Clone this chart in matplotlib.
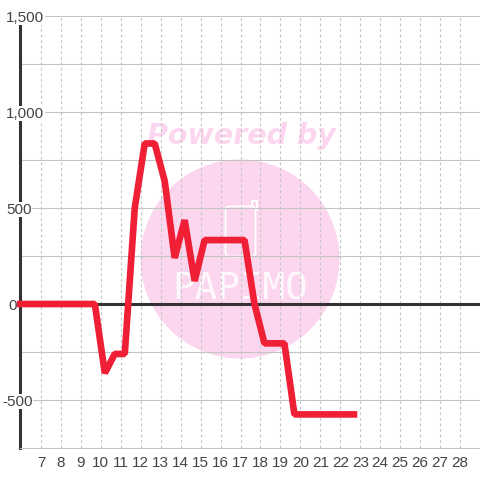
import matplotlib
matplotlib.use('Agg')
import matplotlib.pyplot as plt
from matplotlib.patches import Circle, FancyBboxPatch, Rectangle
from matplotlib.transforms import IdentityTransform

plt.rcParams['font.family'] = ['Liberation Sans', 'DejaVu Sans']

# half day samples
days = [5.8, 6.2, 6.7, 7.2, 7.7, 8.2, 8.7, 9.2, 9.7, 10.2, 10.7, 11.2, 11.7, 12.2, 12.7,
        13.2, 13.7, 14.2, 14.7, 15.2, 15.7, 16.2, 16.7, 17.2, 17.7, 18.2, 18.7, 19.2, 19.7,
        20.2, 20.7, 21.2, 21.7, 22.2, 22.85]
values = [0, 0, 0, 0, 0, 0, 0, 0, 0, -360, -260, -260, 500, 836, 836,
          640, 240, 437, 120, 333, 333, 333, 333, 333, 0, -205, -205, -205, -575,
          -575, -575, -575, -575, -575, -575]
x_ticks = list(range(7, 29))
y_major = [1500, 1000, 500, 0, -500]
y_minor = [1250, 750, 250, -250]
y_labels = ['1,500', '1,000', '500', '0', '-500']
y_label_left = [6, 6, 6, 8, 2]

grid_col = '#c4c4c4'
text_col = '#444444'
dark = '#333333'
red = '#ef1f35'
pink = '#fcd6ee'

fig = plt.figure(figsize=(4.8, 4.8), dpi=100, facecolor='white')
ax = fig.add_axes([20 / 480, 1 - 448 / 480, 460 / 480, 432 / 480])
ax.patch.set_visible(False)
ax.set_xlim(5.95, 29.0)
ax.set_ylim(-750, 1500)

# watermark goes behind the axes
px = IdentityTransform()
fig.add_artist(Circle((240, 480 - 259), 99.5, transform=px, fc=pink, ec='none', zorder=-3))
fig.add_artist(Rectangle((252, 480 - 210), 4.5, 9, transform=px, fc=pink, ec='white', lw=1.3, zorder=-2))
fig.add_artist(FancyBboxPatch((225.5, 480 - 256.5), 30, 50, boxstyle='round,pad=0,rounding_size=4',
                              transform=px, fc=pink, ec='white', lw=1.3, zorder=-1))
fig.text(241.5 / 480, 1 - 135.5 / 480, 'Powered by', color=pink, fontsize=20.5, ha='center', va='center',
         family='DejaVu Sans', weight='bold', style='oblique', zorder=-1)
fig.text(240 / 480, 1 - 289.5 / 480, 'PAPIMO', color='white', alpha=0.85, fontsize=27, ha='center', va='center',
         family='DejaVu Sans Mono', zorder=-1)

for s in ['top', 'right']:
    ax.spines[s].set_visible(False)
ax.spines['left'].set_color(dark)
ax.spines['left'].set_linewidth(2.2)
ax.spines['left'].set_zorder(2)
ax.spines['bottom'].set_color(grid_col)
ax.spines['bottom'].set_linewidth(0.8)

ax.set_xticks(x_ticks)
ax.set_yticks(y_major)
ax.set_yticks(y_minor, minor=True)
ax.set_yticklabels([])
ax.tick_params(axis='both', which='both', length=0)
ax.tick_params(axis='x', labelsize=11, labelcolor=text_col, pad=6)
ax.grid(axis='y', which='both', color=grid_col, lw=0.8, zorder=1)
ax.grid(axis='x', which='major', color=grid_col, lw=0.8, ls=(0, (2.5, 2.5)), zorder=1)
ax.set_axisbelow(True)

ax.axhline(0, color=dark, lw=2.2, zorder=3)
ax.plot(days, values, color=red, lw=4.8, solid_joinstyle='bevel', solid_capstyle='butt',
        zorder=4, clip_on=False)

# labels sit on white boxes that cut the axis line
for lab, val, left in zip(y_labels, y_major, y_label_left):
    ypix = ax.transData.transform((0, val))[1]
    fig.text(left / 480, ypix / 480, lab, color=text_col, fontsize=11, ha='left', va='center_baseline',
             zorder=5, bbox=dict(fc='white', ec='none', pad=0.5))

fig.savefig('out.png', dpi=100)
